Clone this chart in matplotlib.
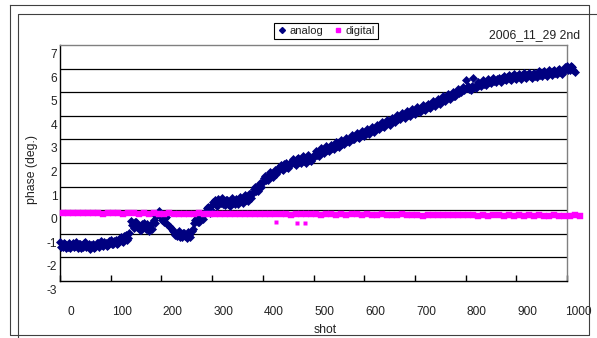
import matplotlib
matplotlib.use("Agg")
import matplotlib.pyplot as plt
from matplotlib.lines import Line2D
from matplotlib.transforms import ScaledTranslation

# phase readings (deg.).
# analog is read twice per 5 shots (shots 0,5,10,... and 2,7,12,...)
analog_shot = list(range(0, 1020, 5))
analog_phase = [
    -1.35, -1.58, -1.42, -1.55, -1.62, -1.38, -1.50, -1.60, -1.45, -1.57, -1.36, -1.52, -1.63, -1.44, -1.58, -1.40,
    -1.30, -1.52, -1.38, -1.48, -1.28, -1.45, -1.25, -1.40,
    -1.15, -1.35, -1.05, -1.18,
    -0.45, -0.75, -0.52, -0.68, -0.82, -0.55, -0.78, -0.88, -0.60, -0.42,
    -0.25, -0.05, -0.30, -0.50, -0.30, -0.65, -0.80,
    -0.92, -1.10, -0.88, -1.15, -0.95, -1.18, -1.05, -0.90,
    -0.55, -0.32, -0.50, -0.25, -0.15,
    0.08, -0.12,
    0.20, 0.45, 0.18, 0.40, 0.50, 0.22, 0.42, 0.18, 0.50, 0.28, 0.45,
    0.55, 0.30, 0.65, 0.40, 0.70,
    0.75, 1.00, 0.82, 1.15,
    1.20, 1.45, 1.28, 1.62, 1.42, 1.72,
    1.65, 1.90, 1.72, 2.00, 1.80,
    1.95, 2.18, 1.90, 2.22, 2.00, 2.28, 2.02, 2.32, 2.08,
    2.25, 2.50, 2.30, 2.62, 2.42, 2.70, 2.50, 2.78,
    2.60, 2.88, 2.68, 2.98, 2.80, 3.08, 2.88, 3.18, 3.00, 3.28, 3.05, 3.35, 3.15,
    3.42, 3.22, 3.52, 3.32, 3.62, 3.42, 3.72, 3.52, 3.82, 3.62, 3.92, 3.72, 4.02,
    3.85, 4.12, 3.92, 4.20, 4.00, 4.28, 4.08, 4.38, 4.18, 4.45, 4.25, 4.52, 4.32,
    4.62, 4.42, 4.72, 4.52, 4.82, 4.62, 4.92, 4.72, 5.02, 4.82, 5.12, 5.00,
    5.20, 5.52, 5.28, 5.10, 5.60, 5.18, 5.45, 5.25, 5.52, 5.32, 5.58, 5.40, 5.62, 5.45,
    5.62, 5.45, 5.68, 5.50, 5.72, 5.52, 5.75, 5.55, 5.78, 5.58, 5.80, 5.60, 5.82,
    5.62, 5.82, 5.65, 5.88, 5.68, 5.90, 5.70, 5.92, 5.72, 5.95, 5.75, 5.98, 5.78,
    5.90, 6.12, 5.95, 6.05, 5.85,
]
analog_shot_b = list(range(2, 1015, 5))
analog_phase_b = [
    -1.55, -1.40, -1.60, -1.37, -1.48, -1.56, -1.35, -1.45, -1.62, -1.38, -1.55, -1.43, -1.48, -1.60, -1.38, -1.56,
    -1.48, -1.35, -1.50, -1.32, -1.45, -1.30, -1.42, -1.22,
    -1.30, -1.10, -1.25, -0.95,
    -0.62, -0.50, -0.72, -0.85, -0.60, -0.70, -0.58, -0.75, -0.80, -0.55,
    -0.15, -0.20, -0.42, -0.35, -0.58, -0.72, -0.88,
    -1.05, -0.95, -1.12, -0.98, -1.08, -0.92, -1.12, -0.80,
    -0.40, -0.48, -0.30, -0.38, -0.05,
    0.15, 0.02,
    0.35, 0.25, 0.48, 0.30, 0.25, 0.45, 0.28, 0.40, 0.30, 0.48, 0.25,
    0.40, 0.55, 0.45, 0.68, 0.50,
    0.90, 0.80, 1.05, 1.00,
    1.38, 1.30, 1.50, 1.45, 1.60, 1.55,
    1.82, 1.75, 1.95, 1.85, 1.95,
    2.10, 2.00, 2.15, 2.05, 2.20, 2.10, 2.25, 2.12, 2.22,
    2.40, 2.35, 2.52, 2.45, 2.60, 2.55, 2.68, 2.62,
    2.78, 2.70, 2.85, 2.82, 2.95, 2.92, 3.05, 3.00, 3.15, 3.10, 3.22, 3.18, 3.32,
    3.30, 3.40, 3.38, 3.50, 3.48, 3.60, 3.58, 3.70, 3.68, 3.80, 3.78, 3.90, 3.88,
    4.00, 3.98, 4.10, 4.05, 4.18, 4.15, 4.25, 4.22, 4.32, 4.30, 4.40, 4.38, 4.48,
    4.50, 4.60, 4.58, 4.70, 4.68, 4.80, 4.78, 4.88, 4.86, 4.98, 4.95, 5.08,
    5.10, 5.18, 5.15, 5.25, 5.22, 5.32, 5.30, 5.38, 5.36, 5.45, 5.42, 5.50, 5.48, 5.55,
    5.52, 5.60, 5.55, 5.65, 5.58, 5.68, 5.62, 5.70, 5.65, 5.72, 5.66, 5.74, 5.68,
    5.75, 5.70, 5.80, 5.74, 5.84, 5.78, 5.86, 5.80, 5.90, 5.82, 5.92, 5.85, 5.94,
    6.05, 5.92, 6.10, 5.95,
]

digital_shot = list(range(5, 1035, 10))
digital_phase = [
    -0.10, -0.12, -0.11, -0.13, -0.12, -0.10, -0.13, -0.12, -0.14, -0.12,
    -0.13, -0.11, -0.14, -0.13, -0.12, -0.15, -0.13, -0.14, -0.12, -0.15,
    -0.14, -0.13, -0.15, -0.14, -0.16, -0.14, -0.15, -0.13, -0.16, -0.15,
    -0.15, -0.17, -0.15, -0.16, -0.14, -0.17, -0.16, -0.15, -0.17, -0.16,
    -0.18, -0.16, -0.17, -0.18, -0.16, -0.19, -0.17, -0.18, -0.16, -0.18,
    -0.17, -0.19, -0.18, -0.17, -0.19, -0.18, -0.20, -0.14, -0.18, -0.19,
    -0.17, -0.19, -0.20, -0.18, -0.21, -0.19, -0.20, -0.18, -0.21, -0.20,
    -0.19, -0.25, -0.20, -0.21, -0.19, -0.22, -0.20, -0.21, -0.22, -0.20,
    -0.21, -0.22, -0.26, -0.21, -0.23, -0.22, -0.21, -0.23, -0.22, -0.24,
    -0.22, -0.23, -0.21, -0.24, -0.22, -0.23, -0.25, -0.22, -0.24, -0.23,
    -0.24, -0.22, -0.23,
]
digital_outlier_shot = [427, 467, 483]
digital_outlier_phase = [-0.50, -0.55, -0.55]

y_ticks = [-3, -2, -1, 0, 1, 2, 3, 4, 5, 6, 7]
x_ticks = [0, 100, 200, 300, 400, 500, 600, 700, 800, 900, 1000]

NAVY = "#000080"
MAGENTA = "#FF00FF"
W, H = 597, 338


def fx(px):
    return px / W


def fy(py):
    return 1 - py / H


def main() -> None:
    plt.rcParams["font.family"] = ["Liberation Sans", "DejaVu Sans"]
    fig = plt.figure(figsize=(W / 100, H / 100), dpi=100)
    fig.patch.set_facecolor("white")

    ax = fig.add_axes([fx(60), fy(281), (567 - 60) / W, (281 - 45) / H])
    ax.set_xlim(0, 1000)
    ax.set_ylim(-3, 7)

    for v in y_ticks[1:-1]:
        ax.axhline(v, color="black", lw=0.9, zorder=1)

    for shots, vals in ((analog_shot, analog_phase), (analog_shot_b, analog_phase_b)):
        ax.plot(shots, vals, ls="none", marker="D", ms=3.6, color=NAVY,
                mec=NAVY, mew=0.5, clip_on=False, zorder=3)
    ax.plot(digital_shot, digital_phase, ls="none", marker="s", ms=4.4,
            color=MAGENTA, mec=MAGENTA, mew=0.3, clip_on=False, zorder=4)
    ax.plot(digital_outlier_shot, digital_outlier_phase, ls="none", marker="s",
            ms=3.4, color=MAGENTA, mec="none", clip_on=False, zorder=4)

    for side in ("top", "right"):
        ax.spines[side].set_color("#808080")
        ax.spines[side].set_linewidth(1.0)
    for side in ("left", "bottom"):
        ax.spines[side].set_color("black")
        ax.spines[side].set_linewidth(1.0)

    ax.set_xticks(x_ticks)
    ax.set_yticks(y_ticks)
    ax.set_xticklabels([str(t) for t in x_ticks])
    ax.set_yticklabels([str(t) for t in y_ticks])
    ax.tick_params(axis="x", direction="in", length=4, width=1, color="black",
                   labelsize=8.6, labelcolor="#222222", pad=18)
    ax.tick_params(axis="y", length=0, labelsize=8.6, labelcolor="#222222", pad=2)

    # the original's tick labels sit a little off their gridlines/ticks
    for lab in ax.get_yticklabels():
        lab.set_transform(lab.get_transform()
                          + ScaledTranslation(0, -0.085, fig.dpi_scale_trans))
    for lab in ax.get_xticklabels():
        lab.set_transform(lab.get_transform()
                          + ScaledTranslation(0.11, 0, fig.dpi_scale_trans))

    fig.text(fx(325), fy(330), "shot", ha="center", va="center",
             fontsize=8.8, color="#222222")
    fig.text(fx(32), fy(169), "phase (deg.)", ha="center", va="center",
             rotation=90, fontsize=8.8, color="#222222")
    fig.text(fx(580), fy(35), "2006_11_29 2nd", ha="right", va="center",
             fontsize=8.8, color="#222222")

    handles = [
        Line2D([], [], ls="none", marker="D", ms=3.0, color=NAVY),
        Line2D([], [], ls="none", marker="s", ms=3.0, color=MAGENTA),
    ]
    leg = fig.legend(handles, ["analog", "digital"], loc="center",
                     bbox_to_anchor=(fx(326), fy(31)), ncol=2, fontsize=8,
                     frameon=True, fancybox=False, framealpha=1,
                     edgecolor="black", handlelength=0.8, handletextpad=0.3,
                     columnspacing=0.9, borderpad=0.25, borderaxespad=0)
    leg.get_frame().set_linewidth(0.8)
    for t in leg.get_texts():
        t.set_color("#222222")

    # chart-area borders
    border = "#404040"
    box_x = [10, 589, 589, 10, 10]
    box_y = [5, 5, 335, 335, 5]
    fig.add_artist(Line2D([fx(v) for v in box_x], [fy(v) for v in box_y],
                          color=border, lw=0.8))
    fig.add_artist(Line2D([fx(597), fx(18), fx(18)], [fy(14), fy(14), fy(338)],
                          color=border, lw=0.8))

    fig.savefig("out.png", dpi=100)


if __name__ == "__main__":
    main()
